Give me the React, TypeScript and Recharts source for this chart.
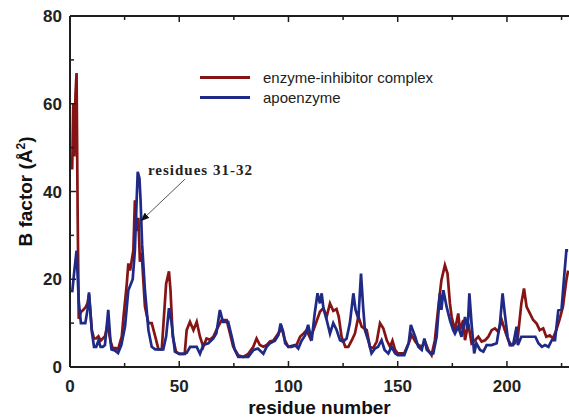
import { LineChart, Line, XAxis, YAxis, Legend, ReferenceLine } from 'recharts';

// B factors, per residue
const complexResidue = [
  1, 1.5, 2, 2.5, 3, 3.5, 4, 5, 6, 7, 8, 8.7, 10, 11, 12, 13, 14, 15, 16, 17.2, 18.5, 19.5, 21, 22, 23.7,
  24.5, 26, 26.7, 27.5, 29, 29.7, 30.5, 31.3, 32, 32.8, 34.3, 35.9, 37.4, 39, 40.5, 42, 44, 45.3, 46, 47,
  48.5, 50, 52.5, 53.4, 54.9, 56.5, 58, 59.5, 61, 62.5, 64, 65.6, 67, 69.4, 71.7, 73.2, 74.7, 77, 79.3,
  81.6, 83.9, 85.4, 86.9, 88.5, 90, 91.5, 93, 95.4, 96.9, 98.4, 99.9, 101.4, 103.7, 105.3, 106.8, 108.3,
  110, 112, 114.4, 115.9, 117.5, 119, 120.5, 122, 123, 124.3, 126, 127.4, 129, 130.4, 132, 133.5, 135.8,
  137.3, 138.8, 140.4, 141.9, 143.4, 145, 146.5, 147.6, 148.8, 150, 153, 155, 156.4, 158, 159.4, 161,
  162.5, 164, 165.5, 167, 168.6, 170, 171.6, 172.8, 173.9, 174.7, 176.2, 177.7, 178.5, 180, 180.8, 182.3,
  183.8, 185.4, 186.9, 188.4, 190, 191.5, 193, 194.5, 196, 197.6, 199, 200.6, 202, 203.6, 205, 206.6,
  207.8, 209, 210.5, 212, 213.6, 215, 216.6, 218, 219.6, 221, 222.6, 224, 225.6, 227.2, 228,
];
const complexB = [
  45, 60, 48, 62, 67, 35, 11, 12.5, 13, 13.5, 14.5, 16.5, 8.4, 6.5, 6.5, 7, 6, 6.5, 7, 9.7, 6, 4.3, 4.3, 4, 7,
  11.5, 19, 23.6, 22, 26.6, 38, 31, 34, 24, 26, 13.8, 10, 10, 7, 4, 4, 19, 21.8, 17.5, 7,
  3.5, 3, 3, 8.4, 10.3, 8.4, 10.3, 6.9, 4.6, 6.5, 6.2, 6.9, 8.4, 10.7, 10.7, 7.7, 4.6, 2.7, 2.3,
  3, 4.6, 6.5, 5, 4.6, 5, 5.8, 6, 7.7, 8.8, 6.1, 4.6, 4.6, 5, 6.9, 7.6, 8.4,
  6.5, 9.2, 12.6, 13.4, 11.5, 14.5, 12.8, 13.2, 11.5, 6.9, 4.6, 4.6, 6.1, 7.6, 11.5, 9.2, 8.4,
  4.6, 4.3, 5.8, 10, 8.8, 6.1, 4.6, 6, 3.9, 3.1, 3.1, 5.4, 7.3, 5.8, 5, 4.6,
  5.8, 3.9, 2.7, 6.1, 13.7, 19.8, 23.2, 21.3, 14.5, 11.4, 8.4, 12.2, 8.4, 10.7, 6.1, 9.9,
  5.4, 6.1, 6.9, 5.8, 6.1, 6.9, 8.4, 8.8, 8, 10.7, 8.4, 6.1, 5, 5.4, 6.9, 14.5,
  17.9, 13.7, 12.2, 10.7, 9.9, 8.4, 8.8, 6.9, 7.2, 6.5, 8.4, 10.7, 13.7, 19.8, 22,
];

const apoResidue = [
  1, 2, 3, 4, 5, 6, 7, 8, 8.7, 10, 11, 12, 13, 14, 15, 16, 17.5, 18.5, 19, 20.5, 22, 23.5, 25.2, 26.7,
  27.9, 28.7, 29.7, 30.5, 31, 31.8, 32.3, 33, 34.3, 35.9, 37.4, 39, 41, 42.7, 44, 45.3, 46.5, 48, 50,
  52, 53.4, 55, 56.5, 58, 59.5, 61, 63.3, 65.6, 67, 68.6, 70, 72.4, 74, 75.4, 77, 81.6, 84, 86, 88.5,
  90, 91.5, 93.8, 95.4, 96.4, 97.6, 98.5, 100, 103, 104.5, 106, 107.6, 109, 110.6, 112, 113.3, 114.4,
  115.2, 116, 117.5, 119, 120.5, 122, 123.6, 125, 126.6, 128.1, 129.7, 130.7, 132, 133.2, 134.2, 135,
  136.5, 138, 139.6, 141, 142.6, 144, 145.7, 147.2, 148.8, 150, 153, 155, 156, 158, 159.4, 161, 162.2,
  163.3, 165, 166.3, 167.8, 169.3, 170, 170.9, 172.4, 173.9, 175.4, 176.2, 177.7, 179.2, 180.8, 182,
  182.8, 183.8, 185, 186, 187.7, 189.2, 190.7, 193, 195.3, 196.8, 198, 199, 200.3, 201.3, 202.8, 204.4,
  205, 206.6, 208, 213, 214.4, 216, 217.4, 219, 220.5, 222, 223.5, 225, 226.3, 227.2, 228,
];
const apoB = [
  17, 22, 26.5, 15, 10, 10, 10, 13, 17, 8, 4.6, 4.6, 6, 4.6, 4.6, 5, 13, 6, 4, 3.8, 3.2, 5, 9.3, 17.5,
  19, 20, 26.6, 38, 44.5, 43, 38, 28, 17.5, 8.4, 4.6, 4, 4, 4, 7, 13.4, 10, 3.5, 3,
  3, 3.2, 4.6, 4.6, 4.6, 3, 5, 5.4, 6.5, 7.7, 13, 10.3, 10.3, 7, 3.9, 2.3, 2.3, 3.9, 4.2, 3,
  4.6, 5.4, 6, 7.3, 9.9, 8, 5.4, 4.6, 5, 4.2, 6, 7.2, 9.6, 6, 12.2, 16.8, 14.5,
  16.8, 13.4, 10.7, 7.6, 10, 8.5, 6.1, 5.8, 6.5, 10, 16.8, 13, 11, 21.3, 13.5, 8.4,
  6.1, 3.1, 4.2, 4.6, 6.1, 3.9, 3.1, 4.6, 3.1, 2.7, 2.7, 5.4, 9.6, 6.9, 4.6, 3.9, 6.5,
  3.9, 3.1, 3.1, 6.9, 16.8, 13, 17.5, 13.7, 10.7, 8.4, 7.6, 9.2, 6.9, 11.4, 8.5,
  16.8, 9.9, 3.1, 5.4, 3.9, 3.5, 5, 5, 5.4, 9.9, 16.8, 12.2, 6.9, 5, 5, 9.2,
  5, 6.9, 6.9, 6.9, 5.4, 4.6, 5, 4.6, 6.1, 6.1, 12.9, 13.2, 21.3, 26.6, 26.6,
];

const seriesNames = ['enzyme-inhibitor complex', 'apoenzyme'];
const xTicks = [0, 25, 50, 75, 100, 125, 150, 175, 200, 225];
const yTicks = [0, 10, 20, 30, 40, 50, 60, 70, 80];
const Y_MAX = 80;

const complexData = complexResidue.map((r, i) => ({ residue: r, b: complexB[i] }));
const apoData = apoResidue.map((r, i) => ({ residue: r, b: apoB[i] }));

const CHART_W = 569;
const CHART_H = 418;
const MARGIN_TOP = 16;
const FRAME = '#1e1e1e';
const FONT = '"Liberation Sans", Arial, sans-serif';

// bottom ticks point inward; the same tick is mirrored on the top frame line
function BottomTick(props: any) {
  const x = Number(props.x);
  const y = Number(props.y);
  const value = props.payload.value;
  const major = value % 50 === 0;
  const len = major ? 6 : 4;
  return (
    <g>
      <path d={`M${x},${y}V${y - len}M${x},${MARGIN_TOP}V${MARGIN_TOP + len}`} stroke={FRAME} strokeWidth={1.5} fill="none" />
      {major && (
        <text x={x} y={y + 25} textAnchor="middle" fontFamily={FONT} fontWeight="bold" fontSize={17} fill="#222">
          {value}
        </text>
      )}
    </g>
  );
}

// left ticks; the top one also draws the upper frame line
function LeftTick(props: any) {
  const x = Number(props.x);
  const y = Number(props.y);
  const value = props.payload.value;
  const major = value % 20 === 0;
  return (
    <g>
      {value === Y_MAX && (
        <path d={`M${x},${y}H${CHART_W}`} stroke={FRAME} strokeWidth={2} fill="none" />
      )}
      <path d={`M${x},${y}H${x + (major ? 6 : 4)}`} stroke={FRAME} strokeWidth={1.5} fill="none" />
      {major && (
        <text x={x - 8} y={y + 6} textAnchor="end" fontFamily={FONT} fontWeight="bold" fontSize={17} fill="#222">
          {value}
        </text>
      )}
    </g>
  );
}

function XTitle({ viewBox }: any) {
  return (
    <text x={viewBox.x + viewBox.width / 2} y={viewBox.y + 47} textAnchor="middle" fontFamily={FONT} fontWeight="bold" fontSize={19} fill="#111">
      residue number
    </text>
  );
}

function YTitle({ viewBox }: any) {
  const cx = viewBox.x + 32;
  const cy = viewBox.y + viewBox.height / 2;
  return (
    <text x={cx} y={cy} transform={`rotate(-90, ${cx}, ${cy})`} textAnchor="middle" fontFamily={FONT} fontWeight="bold" fontSize={19} fill="#111">
      B factor (Å<tspan baselineShift="super" fontSize={12}>2</tspan>)
    </text>
  );
}

function ArrowNote({ x1, y1, x2, y2 }: any) {
  return (
    <g>
      <defs>
        <marker id="arrowHead" markerWidth={9} markerHeight={7} refX={9} refY={3.5} orient="auto" markerUnits="userSpaceOnUse">
          <path d="M0,0 L9,3.5 L0,7 z" fill="#111" />
        </marker>
      </defs>
      <line x1={x1} y1={y1} x2={x2} y2={y2} stroke="#555" strokeWidth={1} markerEnd="url(#arrowHead)" />
      <text x={x1 - 37} y={y1 - 4} fontFamily='"Liberation Serif", "Times New Roman", serif' fontWeight="bold" fontSize={15} letterSpacing={1} fill="#222">
        residues 31-32
      </text>
    </g>
  );
}

function LegendBox({ payload }: any) {
  const items = [...(payload || [])].sort(
    (a: any, b: any) => seriesNames.indexOf(a.value) - seriesNames.indexOf(b.value)
  );
  return (
    <div style={{ fontFamily: FONT, fontSize: 15, color: '#222' }}>
      {items.map((entry: any) => (
        <div key={entry.value} style={{ display: 'flex', alignItems: 'center', height: 20 }}>
          <span style={{ display: 'inline-block', width: 50, height: 3, background: entry.color, marginRight: 13 }} />
          <span>{entry.value}</span>
        </div>
      ))}
    </div>
  );
}

export default function App() {
  return (
    <div style={{ position: 'absolute', left: 0, top: 0, background: '#fff' }}>
      <LineChart width={CHART_W} height={CHART_H} margin={{ top: MARGIN_TOP, right: 0, bottom: 0, left: 0 }}>
        <XAxis
          type="number"
          dataKey="residue"
          domain={[0, 228.4]}
          ticks={xTicks}
          interval={0}
          tickSize={0}
          tickMargin={0}
          tickLine={false}
          tick={<BottomTick />}
          height={51}
          axisLine={{ stroke: FRAME, strokeWidth: 2 }}
          allowDataOverflow
          label={<XTitle />}
        />
        <YAxis
          type="number"
          dataKey="b"
          domain={[0, Y_MAX]}
          ticks={yTicks}
          interval={0}
          tickSize={0}
          tickMargin={0}
          tickLine={false}
          tick={<LeftTick />}
          width={70}
          axisLine={{ stroke: FRAME, strokeWidth: 2 }}
          label={<YTitle />}
        />
        <Legend
          layout="vertical"
          verticalAlign="middle"
          align="center"
          content={<LegendBox />}
          wrapperStyle={{ left: 200, top: 67, width: 300 }}
        />
        <Line
          data={complexData}
          dataKey="b"
          name={seriesNames[0]}
          stroke="#861414"
          strokeWidth={2.7}
          dot={false}
          isAnimationActive={false}
        />
        <Line
          data={apoData}
          dataKey="b"
          name={seriesNames[1]}
          stroke="#1f2a86"
          strokeWidth={2.7}
          dot={false}
          isAnimationActive={false}
        />
        <ReferenceLine
          segment={[{ x: 52.6, y: 42.8 }, { x: 32.3, y: 33.2 }]}
          shape={<ArrowNote />}
          ifOverflow="visible"
        />
      </LineChart>
    </div>
  );
}
